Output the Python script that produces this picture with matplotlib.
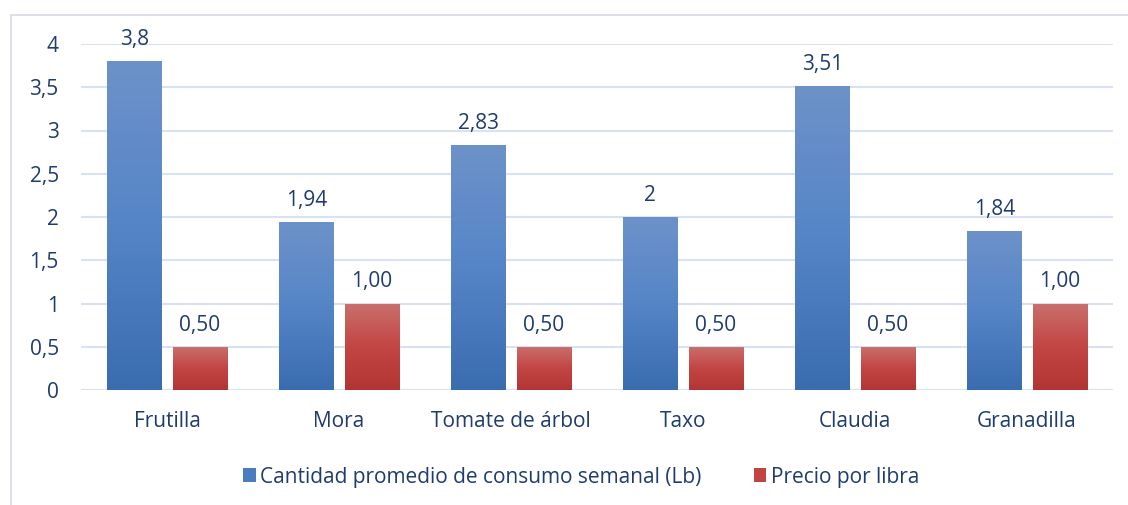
import numpy as np
import matplotlib
matplotlib.use('Agg')
from matplotlib import pyplot as plt
from matplotlib.patches import Rectangle, Patch
from matplotlib.colors import LinearSegmentedColormap

categories = ['Frutilla', 'Mora', 'Tomate de árbol', 'Taxo', 'Claudia', 'Granadilla']
cantidad = [3.8, 1.94, 2.83, 2.0, 3.51, 1.84]
cantidad_labels = ['3,8', '1,94', '2,83', '2', '3,51', '1,84']
precio = [0.5, 1.0, 0.5, 0.5, 0.5, 1.0]
precio_labels = ['0,50', '1,00', '0,50', '0,50', '0,50', '1,00']
series_names = ['Cantidad promedio de consumo semanal (Lb)', 'Precio por libra']
yticks = [0, 0.5, 1, 1.5, 2, 2.5, 3, 3.5, 4]
ytick_labels = ['0', '0,5', '1', '1,5', '2', '2,5', '3', '3,5', '4']

text_color = '#1F3C6E'
grid_color = '#D9E2F3'
blue_cmap = LinearSegmentedColormap.from_list('b', ['#3A6CB0', '#5585C7', '#6D92C9'])
red_cmap = LinearSegmentedColormap.from_list('r', ['#B33434', '#C24644', '#C9706D'])

plt.rcParams['font.family'] = ['Open Sans', 'DejaVu Sans']
fs = 15

fig = plt.figure(figsize=(11.28, 5.05), dpi=100)
ax = fig.add_axes([81 / 1128, 1 - 390 / 505, 1032 / 1128, 346 / 505])

# chart frame (cropped on right/bottom in the reference)
fig.patches.append(Rectangle((11 / 1128, -0.1), 1.2, 1.1 - 15 / 505,
                             transform=fig.transFigure, fill=False,
                             edgecolor='#D6DCE5', linewidth=1.2, zorder=0))

x = np.arange(len(categories))
width = 0.314
offset = 0.19


def gradient_bars(bars, cmap):
    grad = np.linspace(0, 1, 256).reshape(-1, 1)
    for b in bars:
        x0, y0 = b.get_x(), b.get_y()
        w, h = b.get_width(), b.get_height()
        im = ax.imshow(grad, cmap=cmap, origin='lower', aspect='auto',
                       extent=[x0, x0 + w, y0, y0 + h], zorder=3)
        im.set_clip_path(b)
        b.set_facecolor('none')


bars1 = ax.bar(x - offset, cantidad, width, color='#4F81BD', zorder=3, linewidth=0)
bars2 = ax.bar(x + offset, precio, width, color='#C0504D', zorder=3, linewidth=0)
gradient_bars(bars1, blue_cmap)
gradient_bars(bars2, red_cmap)

for bars, labels in [(bars1, cantidad_labels), (bars2, precio_labels)]:
    for b, lab in zip(bars, labels):
        ax.annotate(lab, (b.get_x() + b.get_width() / 2, b.get_height()),
                    xytext=(0, 8), textcoords='offset points', ha='center',
                    va='bottom', fontsize=fs, color=text_color)

ax.set_xlim(-0.5, len(categories) - 0.5)
ax.set_ylim(0, 4)
ax.set_yticks(yticks)
ax.set_yticklabels(ytick_labels)
ax.set_xticks(x)
ax.set_xticklabels(categories)
ax.tick_params(axis='both', length=0, labelsize=fs, labelcolor=text_color)
ax.tick_params(axis='y', pad=16)
ax.tick_params(axis='x', pad=15)
ax.grid(axis='y', color=grid_color, linewidth=1.5, zorder=0)
ax.set_axisbelow(True)
for s in ax.spines.values():
    s.set_visible(False)
ax.axhline(0, color=grid_color, linewidth=1.5, zorder=1)

handles = [Patch(facecolor='#4A7CC0', edgecolor='none'),
           Patch(facecolor='#C04542', edgecolor='none')]
fig.legend(handles, series_names, loc='center', bbox_to_anchor=(581 / 1128, 1 - 477 / 505),
           ncol=2, frameon=False, fontsize=fs, labelcolor=text_color,
           handlelength=0.62, handleheight=0.62, handletextpad=0.2, columnspacing=2.5)

plt.savefig('out.png', dpi=100)
